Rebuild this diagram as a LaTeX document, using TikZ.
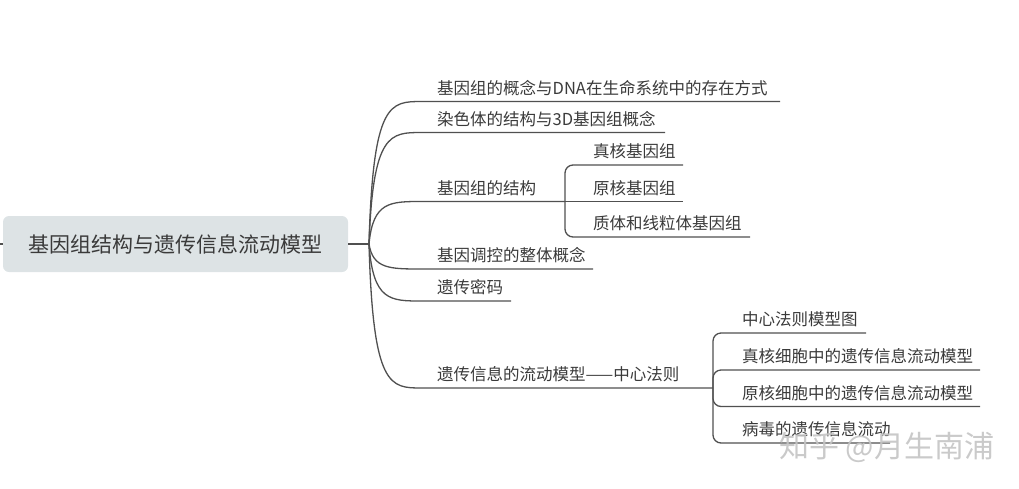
\documentclass[tikz,border=0pt]{standalone}
\usepackage{fontspec}
\setmainfont{Noto Sans CJK SC}
\definecolor{linec}{HTML}{505050}
\definecolor{txtc}{HTML}{3A3A3A}
\definecolor{rootfill}{HTML}{DDE3E5}
\definecolor{wmark}{HTML}{C4C4C4}
\begin{document}
\begin{tikzpicture}[x=1pt,y=-1pt,
  rootbox/.style={draw=none,fill=rootfill,rounded corners=6pt,minimum width=345pt,minimum height=56pt,inner sep=0pt,text=txtc,font=\fontsize{21}{21}\selectfont},
  lbl/.style={anchor=base west,inner sep=0pt,text=txtc,font=\fontsize{16.5}{17}\selectfont},
  conn/.style={draw=linec,line width=1.3pt},
  rootconn/.style={draw=linec,line width=2.2pt},
  brk/.style={draw=linec,line width=1.3pt,rounded corners=8pt}]
\useasboundingbox (0,0) rectangle (1019,488);

% root
\node[rootbox] (root) at (175.5,244) {基因组结构与遗传信息流动模型};
\coordinate (lt) at (0,244);
\draw[rootconn] (lt) -- (root.west);
\coordinate (j) at (369,244);
\draw[rootconn] (root.east) -- (j);

% branch start/end coordinates
\foreach \n/\y/\xe in {1/101.5/780,2/132.5/665,3/201.5/565,4/269/593,5/301/511,6/388/713}{
  \coordinate (b\n) at (422,\y);
  \coordinate (e\n) at (\xe,\y);
  \draw[conn] (j) .. controls (373,\y) and (390,\y) .. (b\n) -- (e\n);
}

\node[lbl] (t1) at (437,94) {基因组的概念与DNA在生命系统中的存在方式};
\node[lbl] (t2) at (437,125) {染色体的结构与3D基因组概念};
\node[lbl] (t3) at (437,194) {基因组的结构};
\node[lbl] (t4) at (437,261.5) {基因调控的整体概念};
\node[lbl] (t5) at (437,293.5) {遗传密码};
\node[lbl] (t6) at (437,380.5) {遗传信息的流动模型——中心法则};

% sub-branches of 3
\coordinate (s31) at (683,165);
\coordinate (s32) at (683,201.5);
\coordinate (s33) at (750,237);
\draw[brk] (s31) -- (565,165) -- (565,237) -- (s33);
\draw[conn] (e3) -- (s32);
\node[lbl] (u31) at (593,157.5) {真核基因组};
\node[lbl] (u32) at (593,194) {原核基因组};
\node[lbl] (u33) at (593,229.5) {质体和线粒体基因组};

% sub-branches of 6
\coordinate (s61) at (866,333);
\coordinate (s62) at (980,370);
\coordinate (s63) at (980,406.5);
\coordinate (s64) at (890,443);
\draw[brk] (s61) -- (713,333) -- (713,443) -- (s64);
\draw[brk] (s62) -- (713,370) -- (713,406.5) -- (s63);
\node[lbl] (u61) at (742,325.5) {中心法则模型图};
\node[lbl] (u62) at (742,362.5) {真核细胞中的遗传信息流动模型};
\node[lbl] (u63) at (742,399) {原核细胞中的遗传信息流动模型};
\node[lbl] (u64) at (742,435.5) {病毒的遗传信息流动};

% watermark
\node[anchor=base west,inner sep=0pt,text=wmark,opacity=0.9,font=\fontsize{30}{30}\selectfont] (wm) at (779,457) {知乎 @月生南浦};
\end{tikzpicture}
\end{document}
